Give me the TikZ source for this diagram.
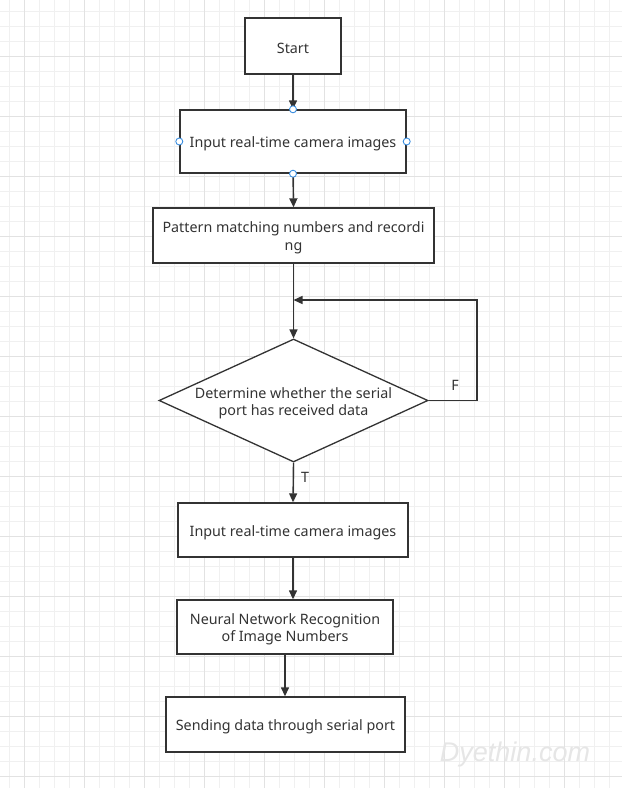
\documentclass[tikz,border=0pt]{standalone}
\usepackage{fontspec}
\setmainfont{Noto Sans}
\newfontfamily\wmfont{Liberation Sans}
\usetikzlibrary{arrows.meta,shapes.geometric}
\definecolor{ink}{HTML}{333333}
\definecolor{gridminor}{HTML}{F0F0F0}
\definecolor{gridmajor}{HTML}{E2E2E2}
\definecolor{portblue}{HTML}{3C8FE0}
\definecolor{wmgray}{HTML}{E6E6E6}
\begin{document}
\begin{tikzpicture}[x=1pt,y=-1pt,
  box/.style={draw=ink,line width=1.4pt,fill=white,inner sep=0pt},
  dia/.style={draw=ink,line width=1.3pt,fill=white,shape=diamond,inner sep=0pt,
    minimum width=269pt,minimum height=123pt,aspect=2.19},
  txt/.style={text=ink,align=center,inner sep=0pt,font=\fontsize{14.3}{17.5}\selectfont},
  arr/.style={draw=ink,line width=1.4pt,-{Triangle[length=9pt,width=8pt]}},
  port/.style={circle,draw=portblue,fill=white,line width=0.9pt,minimum size=7pt,inner sep=0pt}]
\useasboundingbox (0,0) rectangle (622,788);
\fill[white] (0,0) rectangle (622,788);
% grid
\foreach \x in {9.3,24.3,...,622}{\draw[gridminor,line width=0.7pt] (\x,0) -- (\x,788);}
\foreach \y in {11.7,26.7,...,788}{\draw[gridminor,line width=0.7pt] (0,\y) -- (622,\y);}
\foreach \x in {24.3,84.3,...,622}{\draw[gridmajor,line width=0.8pt] (\x,0) -- (\x,788);}
\foreach \y in {56.7,116.7,...,788}{\draw[gridmajor,line width=0.8pt] (0,\y) -- (622,\y);}
% watermark
\node[text=wmgray,font=\wmfont\itshape\fontsize{27}{30}\selectfont,inner sep=0pt] (wm) at (515,755) {Dyethin.com};
% boxes
\node[box,minimum width=96pt,minimum height=56pt] (start) at (293,46) {};
\node[box,minimum width=226pt,minimum height=63pt] (in1) at (293,141.5) {};
\node[box,minimum width=281pt,minimum height=55pt] (pm) at (293.5,235.5) {};
\node[dia] (dec) at (293.5,400.5) {};
\node[box,minimum width=230pt,minimum height=54pt] (in2) at (293,530) {};
\node[box,minimum width=216pt,minimum height=54pt] (nn) at (285,627) {};
\node[box,minimum width=239pt,minimum height=55pt] (send) at (285.5,724.5) {};
% texts
\node[txt] (starttxt) at ([yshift=-2pt]start.center) {Start};
\node[txt] (in1txt) at ([yshift=-2pt]in1.center) {Input real-time camera images};
\node[txt] (pmtxt) at ([yshift=-2.5pt]pm.center) {Pattern matching numbers and recordi\\ng};
\node[txt] (dectxt) at ([yshift=-3pt]dec.center) {Determine whether the serial\\port has received data};
\node[txt] (in2txt) at ([yshift=-2.5pt]in2.center) {Input real-time camera images};
\node[txt] (nntxt) at ([yshift=-2.5pt]nn.center) {Neural Network Recognition\\of Image Numbers};
\node[txt] (sendtxt) at ([yshift=-2.5pt]send.center) {Sending data through serial port};
% connectors
\draw[arr] (start.south) -- (in1.north);
\draw[arr] (in1.south) -- (pm.north);
\draw[arr] (pm.south) -- (dec.north);
\coordinate (fr) at (477,400.5);
\coordinate (ft) at (477,300);
\coordinate (merge) at (293.5,300);
\draw[arr] (dec.east) -- (fr) -- (ft) -- (merge);
\node[txt] (flab) at (455,385) {F};
\draw[arr] (dec.south) -- (in2.north);
\node[txt] (tlab) at (305,477) {T};
\draw[arr] (in2.south) -- (in2.south |- nn.north);
\draw[arr] (nn.south) -- (nn.south |- send.north);
% ports
\node[port] (p1) at (in1.north) {};
\node[port] (p2) at (in1.west) {};
\node[port] (p3) at (in1.east) {};
\node[port] (p4) at (in1.south) {};
\end{tikzpicture}
\end{document}
